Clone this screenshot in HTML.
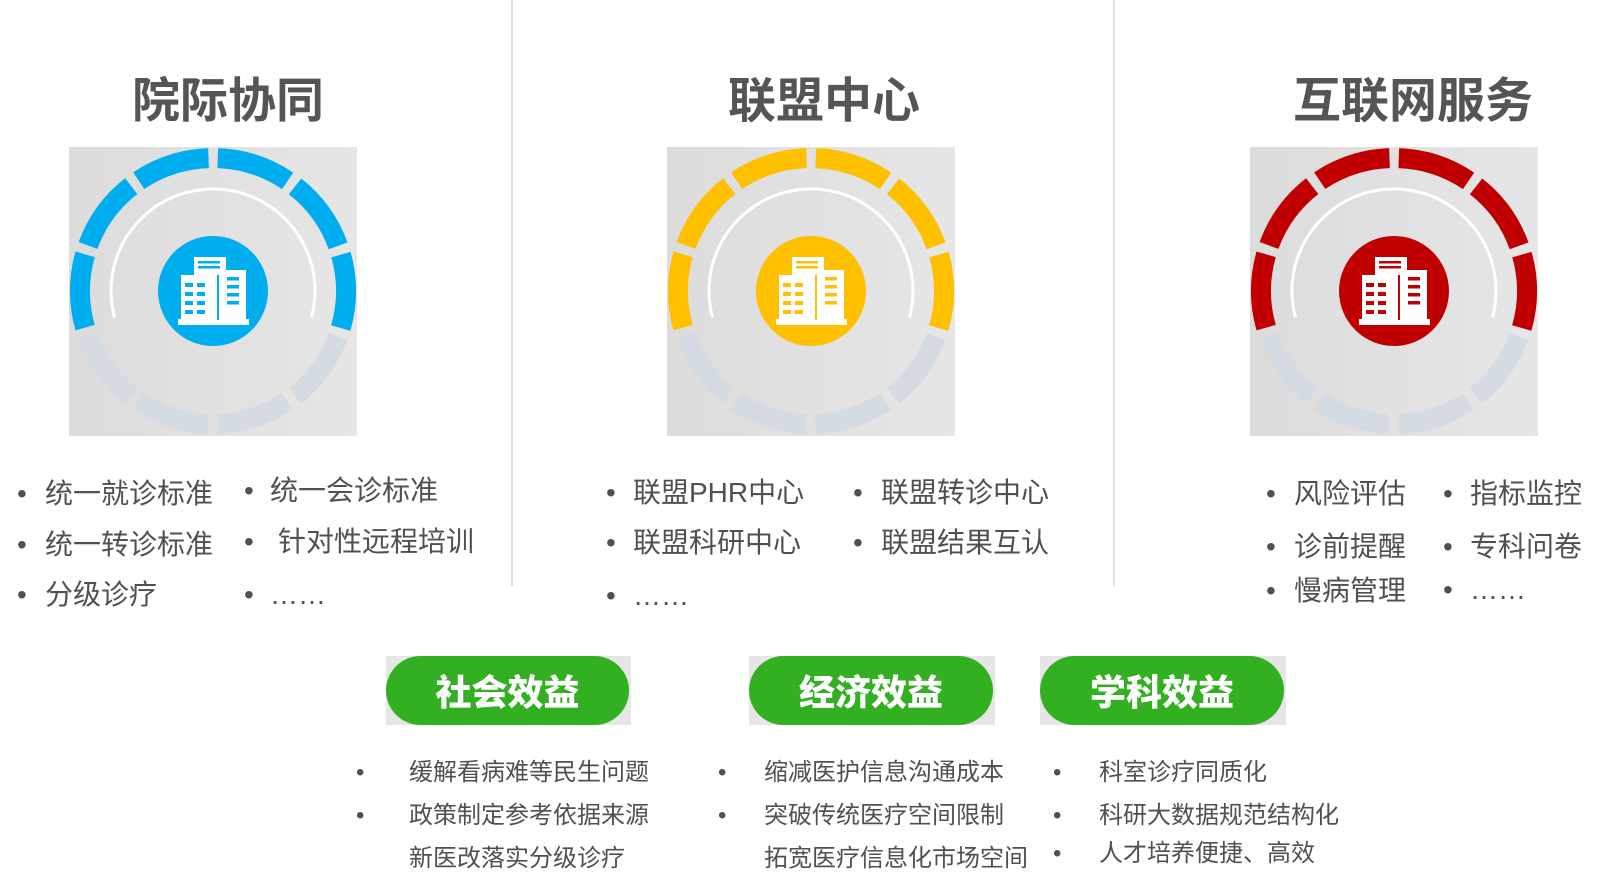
<!DOCTYPE html>
<html><head><meta charset="utf-8">
<style>
body{margin:0;width:1604px;height:886px;background:#fff;position:relative;overflow:hidden;font-family:"Liberation Sans","Noto Sans CJK SC",sans-serif;}
.t{position:absolute;font-size:28px;line-height:28px;color:#505050;white-space:nowrap;}
.s{position:absolute;font-size:24px;line-height:26px;color:#505050;white-space:nowrap;}
.h{position:absolute;font-size:48px;font-weight:700;color:#555;line-height:50px;text-align:center;width:400px;font-family:"Noto Sans CJK SC",sans-serif;}
.d{position:absolute;width:2px;top:0;height:586px;background:#e0e0e0;}
.box{position:absolute;top:147px;width:288px;height:289px;background:linear-gradient(90deg,#dcdcdc,#e2e2e2 60%,#e6e6e6);}
.pbg{position:absolute;top:656px;height:69px;background:#e6e6e6;}
.pill{position:absolute;top:0;left:0;right:2px;bottom:0;border-radius:35px;background:#33b022;color:#fff;font-weight:900;font-size:36px;text-align:center;line-height:69px;font-family:"Noto Sans CJK SC",sans-serif;}
</style></head><body>
<div class="d" style="left:511px"></div>
<div class="d" style="left:1113px"></div>

<div class="h" style="left:28px;top:71px">院际协同</div>
<div class="h" style="left:624px;top:71px">联盟中心</div>
<div class="h" style="left:1213px;top:71px">互联网服务</div>

<svg width="0" height="0" style="position:absolute"><defs>
<g id="ring">
<circle cx="144" cy="144" r="133" fill="none" stroke="#d5dbe3" stroke-width="20" stroke-dasharray="74.3 9.29" transform="rotate(20 144 144)"/>
<circle cx="144" cy="144" r="133" fill="none" stroke="currentColor" stroke-width="20" stroke-dasharray="74.3 9.29 74.3 9.29 74.3 9.29 74.3 9.29 74.3 9.29 74.3 400" transform="rotate(164 144 144)"/>
<circle cx="144" cy="144" r="102" fill="none" stroke="#fff" stroke-width="3" stroke-dasharray="373.8 1000" transform="rotate(165 144 144)"/>
<circle cx="144" cy="144" r="55" fill="currentColor"/>
<rect x="109" y="172" width="71" height="6" fill="#fff"/>
<rect x="112" y="128" width="38" height="45" fill="#fff"/>
<rect x="125" y="110" width="32" height="20" fill="#fff"/>
<rect x="150" y="123" width="27" height="50" fill="#fff"/>
<rect x="129" y="114" width="22" height="2.5" fill="currentColor"/>
<rect x="129" y="119" width="22" height="2.5" fill="currentColor"/>
<g fill="currentColor">
<rect x="116" y="136" width="8" height="4"/><rect x="128" y="136" width="8" height="4"/>
<rect x="116" y="145" width="8" height="4"/><rect x="128" y="145" width="8" height="4"/>
<rect x="116" y="154" width="8" height="4"/><rect x="128" y="154" width="8" height="4"/>
<rect x="116" y="163" width="8" height="4"/><rect x="128" y="163" width="8" height="4"/>
<rect x="158" y="130" width="12" height="3.5"/><rect x="158" y="138" width="12" height="3.5"/>
<rect x="158" y="146" width="12" height="3.5"/><rect x="158" y="154" width="12" height="3.5"/>
<rect x="148" y="128" width="2" height="45"/>
</g>
</g></defs></svg>

<div class="box" style="left:69px"><svg width="288" height="289" style="color:#00adee"><use href="#ring"/></svg></div>
<div class="box" style="left:667px"><svg width="288" height="289" style="color:#ffc000"><use href="#ring"/></svg></div>
<div class="box" style="left:1250px"><svg width="288" height="289" style="color:#c00000"><use href="#ring"/></svg></div>

<!-- col1 -->
<div class="t" style="left:17px;top:480px">•</div><div class="t" style="left:45px;top:480px">统一就诊标准</div>
<div class="t" style="left:17px;top:531px">•</div><div class="t" style="left:45px;top:531px">统一转诊标准</div>
<div class="t" style="left:17px;top:581px">•</div><div class="t" style="left:45px;top:581px">分级诊疗</div>
<div class="t" style="left:244px;top:477px">•</div><div class="t" style="left:270px;top:477px">统一会诊标准</div>
<div class="t" style="left:244px;top:528px">•</div><div class="t" style="left:278px;top:528px">针对性远程培训</div>
<div class="t" style="left:244px;top:581px">•</div><div class="t" style="left:270px;top:581px">……</div>
<!-- col2 -->
<div class="t" style="left:606px;top:479px">•</div><div class="t" style="left:633px;top:479px">联盟PHR中心</div>
<div class="t" style="left:606px;top:529px">•</div><div class="t" style="left:633px;top:529px">联盟科研中心</div>
<div class="t" style="left:606px;top:582px">•</div><div class="t" style="left:633px;top:582px">……</div>
<div class="t" style="left:853px;top:479px">•</div><div class="t" style="left:881px;top:479px">联盟转诊中心</div>
<div class="t" style="left:853px;top:529px">•</div><div class="t" style="left:881px;top:529px">联盟结果互认</div>
<!-- col3 -->
<div class="t" style="left:1266px;top:480px">•</div><div class="t" style="left:1294px;top:480px">风险评估</div>
<div class="t" style="left:1266px;top:533px">•</div><div class="t" style="left:1294px;top:533px">诊前提醒</div>
<div class="t" style="left:1266px;top:577px">•</div><div class="t" style="left:1294px;top:577px">慢病管理</div>
<div class="t" style="left:1443px;top:480px">•</div><div class="t" style="left:1470px;top:480px">指标监控</div>
<div class="t" style="left:1443px;top:533px">•</div><div class="t" style="left:1470px;top:533px">专科问卷</div>
<div class="t" style="left:1443px;top:576px">•</div><div class="t" style="left:1470px;top:576px">……</div>

<div class="pbg" style="left:386px;width:245px"><div class="pill">社会效益</div></div>
<div class="pbg" style="left:749px;width:246px"><div class="pill">经济效益</div></div>
<div class="pbg" style="left:1040px;width:246px"><div class="pill">学科效益</div></div>

<div class="s" style="left:356px;top:760px">•</div><div class="s" style="left:409px;top:760px">缓解看病难等民生问题</div>
<div class="s" style="left:356px;top:803px">•</div><div class="s" style="left:409px;top:803px">政策制定参考依据来源</div>
<div class="s" style="left:409px;top:846px">新医改落实分级诊疗</div>
<div class="s" style="left:718px;top:760px">•</div><div class="s" style="left:764px;top:760px">缩减医护信息沟通成本</div>
<div class="s" style="left:718px;top:803px">•</div><div class="s" style="left:764px;top:803px">突破传统医疗空间限制</div>
<div class="s" style="left:764px;top:846px">拓宽医疗信息化市场空间</div>
<div class="s" style="left:1053px;top:760px">•</div><div class="s" style="left:1099px;top:760px">科室诊疗同质化</div>
<div class="s" style="left:1053px;top:803px">•</div><div class="s" style="left:1099px;top:803px">科研大数据规范结构化</div>
<div class="s" style="left:1053px;top:841px">•</div><div class="s" style="left:1099px;top:841px">人才培养便捷、高效</div>
</body></html>
